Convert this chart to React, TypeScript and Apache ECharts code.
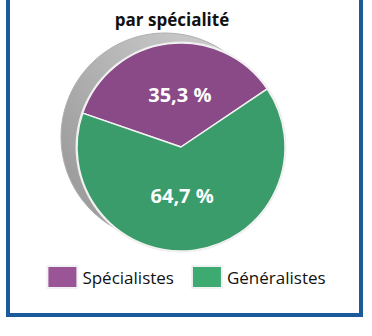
import React, { useEffect, useRef } from "react";
import * as echarts from "echarts";

const categories = ["Spécialistes", "Généralistes"];
const values = [35.3, 64.7];
const colors = ["#8a4a87", "#3a9b6b"];
const legendColors = ["#9a5597", "#3daa72"];
const title = "par spécialité";

export default function App() {
  const ref = useRef<HTMLDivElement>(null);
  useEffect(() => {
    if (!ref.current) return;
    const chart = echarts.init(ref.current, undefined, { renderer: "svg" });
    const cx = 181;
    const cy = 147;
    const r = 104;
    const labelOffsets = [
      [6, 2],
      [-6, -6],
    ];
    chart.setOption({
      animation: false,
      backgroundColor: "#ffffff",
      graphic: [
        {
          type: "rect",
          z: 0,
          shape: { x: 8, y: -10, width: 353, height: 325 },
          style: { fill: "#ffffff", stroke: "#1d5a9c", lineWidth: 4 },
        },
        {
          type: "text",
          z: 5,
          x: 172,
          y: 11,
          style: {
            text: title,
            fill: "#111111",
            font: "bold 17px 'Open Sans'",
            align: "center",
            verticalAlign: "alphabetic",
          },
        },
        {
          type: "circle",
          z: 1,
          shape: { cx: cx - 16, cy: cy - 10, r: r },
          style: {
            fill: new echarts.graphic.LinearGradient(1, 0, 0, 0.6, [
              { offset: 0, color: "#d4d4d4" },
              { offset: 0.5, color: "#bdbdbd" },
              { offset: 1, color: "#9e9e9e" },
            ]),
            stroke: "#b0b0b0",
            lineWidth: 1,
          },
        },
        {
          type: "circle",
          z: 2,
          shape: { cx: cx, cy: cy, r: r + 1.5 },
          style: { fill: "#eeeeee" },
        },
      ],
      legend: {
        bottom: 42,
        left: "center",
        itemWidth: 30,
        itemHeight: 22,
        itemGap: 17,
        icon: "rect",
        selectedMode: false,
        textStyle: { fontSize: 17, color: "#111111", fontFamily: "'Open Sans'" },
        data: categories.map((c, i) => ({ name: c, itemStyle: { color: legendColors[i] } })),
      },
      series: [
        {
          type: "pie",
          z: 3,
          center: [cx, cy],
          radius: [0, r],
          startAngle: 161,
          clockwise: true,
          silent: true,
          itemStyle: { borderColor: "#f2f2f2", borderWidth: 1.5 },
          label: {
            show: true,
            position: "inside",
            color: "#ffffff",
            fontSize: 20,
            fontWeight: "bold",
            fontFamily: "'Open Sans'",
            formatter: (p: any) => p.value.toFixed(1).replace(".", ",") + " %",
          },
          labelLine: { show: false },
          data: categories.map((c, i) => ({
            name: c,
            value: values[i],
            itemStyle: { color: colors[i] },
            label: { offset: labelOffsets[i] },
          })),
        },
      ],
    });
    return () => chart.dispose();
  }, []);
  return (
    <div
      ref={ref}
      style={{ position: "fixed", left: 0, top: 0, width: 372, height: 336 }}
    />
  );
}
